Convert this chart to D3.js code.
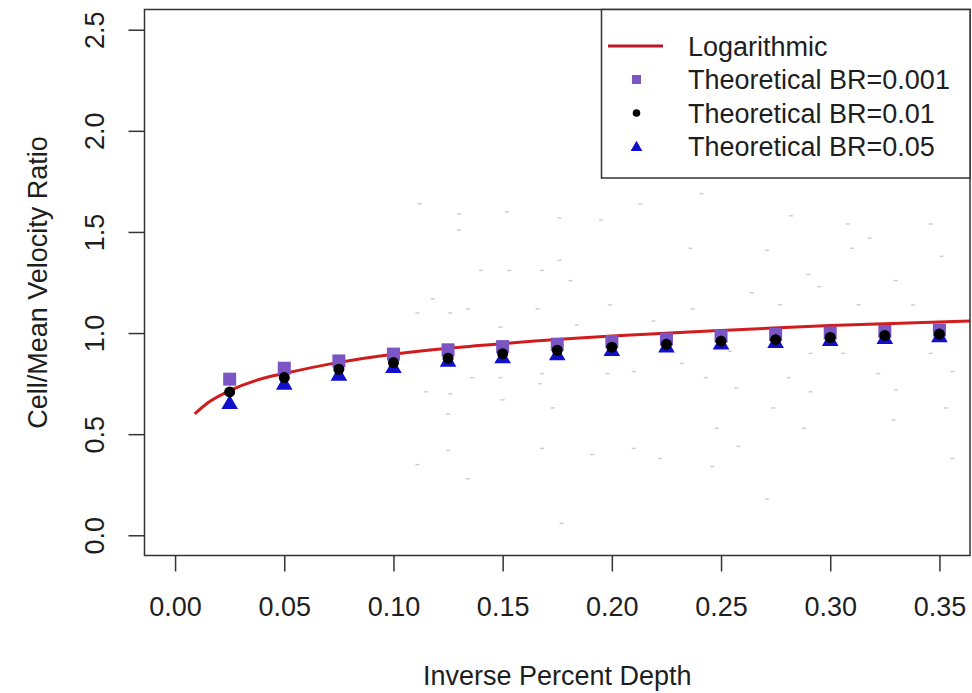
<!DOCTYPE html>
<html>
<head>
<meta charset="utf-8">
<script src="https://cdn.jsdelivr.net/npm/d3@7"></script>
<style>
  body { margin: 0; background: #fff; }
  text { font-family: "Liberation Sans", Arial, sans-serif; fill: #1e1e1e; }
</style>
</head>
<body>
<div id="chart"></div>
<script>
// theoretical points (inverse percent depth)
const depth = [0.025, 0.05, 0.075, 0.10, 0.125, 0.15, 0.175, 0.20, 0.225, 0.25, 0.275, 0.30, 0.325, 0.35];
const br001 = [0.772, 0.826, 0.862, 0.896, 0.917, 0.933, 0.945, 0.958, 0.970, 0.985, 0.993, 1.000, 1.008, 1.015];
const br01  = [0.709, 0.780, 0.821, 0.854, 0.876, 0.898, 0.915, 0.930, 0.945, 0.960, 0.967, 0.978, 0.988, 0.995];
const br05  = [0.648, 0.744, 0.788, 0.826, 0.857, 0.874, 0.889, 0.910, 0.928, 0.943, 0.950, 0.960, 0.970, 0.978];

// logarithmic fit
const logX = [0.009, 0.015, 0.025, 0.04, 0.05, 0.075, 0.10, 0.125, 0.15, 0.20, 0.25, 0.30, 0.364];
const logY = [0.600, 0.655, 0.715, 0.775, 0.800, 0.855, 0.895, 0.925, 0.948, 0.985, 1.013, 1.037, 1.060];

// faint observed cells in the background
const obsX = [0.112, 0.130, 0.152, 0.176, 0.195, 0.213, 0.130, 0.176, 0.140, 0.153, 0.168, 0.181, 0.118, 0.134, 0.166, 0.199,
  0.111, 0.126, 0.149, 0.184, 0.219, 0.136, 0.149, 0.168, 0.198, 0.210, 0.115, 0.126, 0.167, 0.173, 0.150, 0.125, 0.168, 0.125,
  0.111, 0.191, 0.210, 0.134, 0.177, 0.222,
  0.241, 0.282, 0.308, 0.318, 0.346, 0.236, 0.271, 0.310, 0.351, 0.290, 0.330, 0.264, 0.295, 0.313, 0.338, 0.237, 0.277, 0.254,
  0.291, 0.306, 0.346, 0.232, 0.243, 0.281, 0.322, 0.356, 0.257, 0.291, 0.330, 0.274, 0.353, 0.248, 0.288, 0.329, 0.258, 0.246,
  0.356, 0.271];
const obsY = [1.64, 1.59, 1.60, 1.57, 1.56, 1.64, 1.51, 1.36, 1.31, 1.31, 1.31, 1.26, 1.17, 1.12, 1.12, 1.14,
  1.10, 1.10, 1.03, 1.04, 1.06, 0.78, 0.78, 0.80, 0.80, 0.81, 0.71, 0.70, 0.75, 0.63, 0.67, 0.60, 0.43, 0.42,
  0.35, 0.40, 0.43, 0.28, 0.06, 0.38,
  1.69, 1.58, 1.54, 1.47, 1.54, 1.42, 1.41, 1.42, 1.38, 1.29, 1.26, 1.20, 1.23, 1.14, 1.14, 1.12, 1.14, 0.91,
  0.90, 0.90, 0.90, 0.85, 0.78, 0.78, 0.80, 0.81, 0.73, 0.71, 0.72, 0.63, 0.63, 0.53, 0.53, 0.57, 0.44, 0.34,
  0.38, 0.18];

const xTicks = [0, 0.05, 0.10, 0.15, 0.20, 0.25, 0.30, 0.35];
const yTicks = [0, 0.5, 1.0, 1.5, 2.0, 2.5];
const legendLabels = ["Logarithmic", "Theoretical BR=0.001", "Theoretical BR=0.01", "Theoretical BR=0.05"];

const width = 972, height = 693;
const plot = {left: 144.5, right: 970, top: 9.5, bottom: 555.5};

const svg = d3.select("#chart").append("svg")
  .attr("width", width)
  .attr("height", height);

const x = d3.scaleLinear().domain([-0.014, 0.364]).range([plot.left, plot.right]);
const y = d3.scaleLinear().domain([-0.1, 2.6]).range([plot.bottom, plot.top]);

svg.append("clipPath").attr("id", "clip")
  .append("rect")
  .attr("x", plot.left).attr("y", plot.top)
  .attr("width", plot.right - plot.left).attr("height", plot.bottom - plot.top);

const body = svg.append("g").attr("clip-path", "url(#clip)");

// background scatter
body.selectAll(".obs")
  .data(obsX.map((d, i) => [d, obsY[i]]))
  .join("rect")
  .attr("class", "obs")
  .attr("x", d => x(d[0]) - 2)
  .attr("y", d => y(d[1]) - 0.6)
  .attr("width", 4)
  .attr("height", 1.4)
  .attr("fill", "#999")
  .attr("opacity", 0.5);

// logarithmic curve
const line = d3.line()
  .x(d => x(d[0]))
  .y(d => y(d[1]))
  .curve(d3.curveMonotoneX);

body.append("path")
  .datum(logX.map((d, i) => [d, logY[i]]))
  .attr("d", line)
  .attr("fill", "none")
  .attr("stroke", "#d01c1c")
  .attr("stroke-width", 3);

const purple = "#7b55c4", blue = "#1010cc";

body.selectAll(".sq")
  .data(depth.map((d, i) => [d, br001[i]]))
  .join("rect")
  .attr("class", "sq")
  .attr("x", d => x(d[0]) - 6.5)
  .attr("y", d => y(d[1]) - 6.5)
  .attr("width", 13).attr("height", 13)
  .attr("fill", purple);

const tri = d3.symbol().type(d3.symbolTriangle).size(120);

body.selectAll(".tri")
  .data(depth.map((d, i) => [d, br05[i]]))
  .join("path")
  .attr("class", "tri")
  .attr("d", tri)
  .attr("transform", d => `translate(${x(d[0])},${y(d[1])})`)
  .attr("fill", blue);

body.selectAll(".dot")
  .data(depth.map((d, i) => [d, br01[i]]))
  .join("circle")
  .attr("class", "dot")
  .attr("cx", d => x(d[0]))
  .attr("cy", d => y(d[1]))
  .attr("r", 5.5)
  .attr("fill", "#000");

// axes
const xAxis = d3.axisBottom(x).tickValues(xTicks).tickSize(16).tickPadding(22)
  .tickFormat(d3.format(".2f"));
const gx = svg.append("g")
  .attr("transform", `translate(0,${plot.bottom})`)
  .call(xAxis);
gx.select(".domain").remove();

const yAxis = d3.axisLeft(y).tickValues(yTicks).tickSize(16).tickPadding(0)
  .tickFormat(d3.format(".1f"));
const gy = svg.append("g")
  .attr("transform", `translate(${plot.left},0)`)
  .call(yAxis);
gy.select(".domain").remove();

svg.selectAll(".tick line").attr("stroke", "#333").attr("stroke-width", 1.5);
svg.selectAll(".tick text")
  .attr("font-size", 27)
  .attr("font-family", "'Liberation Sans', Arial, sans-serif")
  .attr("fill", "#1e1e1e");

gx.selectAll(".tick text").attr("dy", null).attr("y", 60);
gy.selectAll(".tick text")
  .attr("x", null).attr("dy", null)
  .attr("text-anchor", "middle")
  .attr("transform", "translate(-41,0) rotate(-90)")
  .attr("y", 0);

// plot frame
svg.append("rect")
  .attr("x", plot.left).attr("y", plot.top)
  .attr("width", plot.right - plot.left).attr("height", plot.bottom - plot.top)
  .attr("fill", "none")
  .attr("stroke", "#333")
  .attr("stroke-width", 1.5);

// axis titles
svg.append("text")
  .attr("x", (plot.left + plot.right) / 2)
  .attr("y", 685)
  .attr("text-anchor", "middle")
  .attr("font-size", 27)
  .text("Inverse Percent Depth");

svg.append("text")
  .attr("transform", `translate(47,${(plot.top + plot.bottom) / 2}) rotate(-90)`)
  .attr("text-anchor", "middle")
  .attr("font-size", 27)
  .text("Cell/Mean Velocity Ratio");

// legend
const lg = {left: 601.5, top: 9.5, right: 970, bottom: 178};
svg.append("rect")
  .attr("x", lg.left).attr("y", lg.top)
  .attr("width", lg.right - lg.left).attr("height", lg.bottom - lg.top)
  .attr("fill", "#fff")
  .attr("stroke", "#333")
  .attr("stroke-width", 1.5);

const rowY = i => 46 + i * 33.5;
const symX = 636.5;

svg.append("line")
  .attr("x1", 608).attr("x2", 663)
  .attr("y1", rowY(0)).attr("y2", rowY(0))
  .attr("stroke", "#b8162a").attr("stroke-width", 3);

svg.append("rect")
  .attr("x", symX - 4.5).attr("y", rowY(1) - 4.5)
  .attr("width", 9).attr("height", 9)
  .attr("fill", purple);

svg.append("circle")
  .attr("cx", symX).attr("cy", rowY(2)).attr("r", 3.8)
  .attr("fill", "#000");

svg.append("path")
  .attr("d", d3.symbol().type(d3.symbolTriangle).size(60))
  .attr("transform", `translate(${symX},${rowY(3) + 1})`)
  .attr("fill", blue);

svg.selectAll(".lgtext")
  .data(legendLabels)
  .join("text")
  .attr("class", "lgtext")
  .attr("x", 688)
  .attr("y", (d, i) => rowY(i))
  .attr("dy", "0.36em")
  .attr("font-size", 27)
  .text(d => d);
</script>
</body>
</html>
